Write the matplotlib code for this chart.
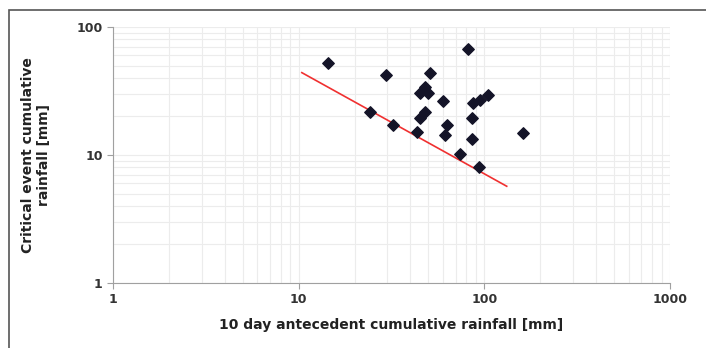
import numpy as np
import matplotlib.pyplot as plt
from matplotlib.patches import Rectangle
from matplotlib.ticker import FixedLocator, LogLocator, NullFormatter

# antecedent rainfall (x) and critical event rainfall (y), mm
antecedent = [14.4, 82, 29.5, 51, 48, 45, 50, 60, 24.2, 48, 45, 32.3, 43.2,
              62.7, 61.4, 105, 94.7, 87, 85.4, 85.4, 74, 94, 162]
critical = [52, 67, 42, 43.4, 34.2, 30.3, 30.3, 26.6, 21.8, 21.8, 19.4, 17.1, 15.2,
            17.1, 14.3, 29.4, 26.9, 25.3, 19.4, 13.3, 10.2, 8.1, 14.9]

# threshold line end points
thr_x = [10.4, 132]
thr_y = [44, 5.7]

fig = plt.figure(figsize=(7.06, 3.48), dpi=100)
fig.patches.append(Rectangle((9 / 706, -0.1), 1.2, (348 - 10) / 348 + 0.1,
                             transform=fig.transFigure, fill=False,
                             edgecolor='#555555', linewidth=1.2))
ax = fig.add_axes([113 / 706, 65 / 348, 557 / 706, 256 / 348])

ax.plot(thr_x, thr_y, color='#f03030', linewidth=1.2, zorder=2)
ax.scatter(antecedent, critical, marker='D', s=34, color='#141428', zorder=3)

ax.set_xscale('log')
ax.set_yscale('log')
ax.set_xlim(1, 1000)
ax.set_ylim(1, 100)

ax.xaxis.set_major_locator(FixedLocator([1, 10, 100, 1000]))
ax.yaxis.set_major_locator(FixedLocator([1, 10, 100]))
ax.xaxis.set_minor_locator(LogLocator(base=10, subs=np.arange(2, 10)))
ax.yaxis.set_minor_locator(LogLocator(base=10, subs=np.arange(2, 10)))
ax.xaxis.set_minor_formatter(NullFormatter())
ax.yaxis.set_minor_formatter(NullFormatter())
ax.set_xticklabels(['1', '10', '100', '1000'])
ax.set_yticklabels(['1', '10', '100'])

ax.grid(True, which='both', color='#ececec', linewidth=0.8)
ax.set_axisbelow(True)

for s in ['top', 'right']:
    ax.spines[s].set_visible(False)
for s in ['left', 'bottom']:
    ax.spines[s].set_color('#a0a0a0')
ax.tick_params(which='major', length=4, color='#a0a0a0', labelsize=9,
               labelcolor='#333333')
ax.tick_params(which='minor', length=0)
for lab in ax.get_xticklabels() + ax.get_yticklabels():
    lab.set_fontweight('bold')

ax.set_xlabel('10 day antecedent cumulative rainfall [mm]', fontsize=10,
              fontweight='bold', color='#222222', labelpad=8)
ax.set_ylabel('Critical event cumulative\nrainfall [mm]', fontsize=10,
              fontweight='bold', color='#222222', labelpad=18)

fig.savefig('out.png', dpi=100)
